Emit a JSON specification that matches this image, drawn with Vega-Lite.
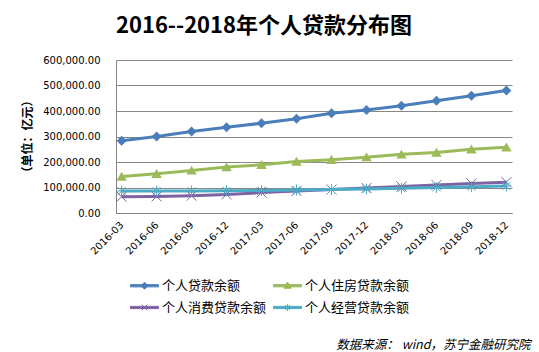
{
  "$schema": "https://vega.github.io/schema/vega-lite/v6.json",
  "width": 396,
  "height": 153,
  "autosize": {"type": "none"},
  "padding": {"left": 116, "top": 60, "right": 27, "bottom": 139},
  "background": "white",
  "title": {
    "text": "2016--2018年个人贷款分布图",
    "font": "Noto Sans CJK SC",
    "fontSize": 22,
    "fontWeight": "bold",
    "color": "#000000",
    "anchor": "middle",
    "frame": "group",
    "dx": -50,
    "offset": 17
  },
  "config": {
    "view": {"stroke": null}
  },
  "data": {
    "values": [
      {"date": "2016-03", "series": "个人贷款余额", "value": 283000},
      {"date": "2016-06", "series": "个人贷款余额", "value": 300000},
      {"date": "2016-09", "series": "个人贷款余额", "value": 320000},
      {"date": "2016-12", "series": "个人贷款余额", "value": 336000},
      {"date": "2017-03", "series": "个人贷款余额", "value": 352000},
      {"date": "2017-06", "series": "个人贷款余额", "value": 370000},
      {"date": "2017-09", "series": "个人贷款余额", "value": 391000},
      {"date": "2017-12", "series": "个人贷款余额", "value": 404000},
      {"date": "2018-03", "series": "个人贷款余额", "value": 421000},
      {"date": "2018-06", "series": "个人贷款余额", "value": 440000},
      {"date": "2018-09", "series": "个人贷款余额", "value": 460000},
      {"date": "2018-12", "series": "个人贷款余额", "value": 480000},
      {"date": "2016-03", "series": "个人住房贷款余额", "value": 143000},
      {"date": "2016-06", "series": "个人住房贷款余额", "value": 154000},
      {"date": "2016-09", "series": "个人住房贷款余额", "value": 167000},
      {"date": "2016-12", "series": "个人住房贷款余额", "value": 180000},
      {"date": "2017-03", "series": "个人住房贷款余额", "value": 189000},
      {"date": "2017-06", "series": "个人住房贷款余额", "value": 202000},
      {"date": "2017-09", "series": "个人住房贷款余额", "value": 209000},
      {"date": "2017-12", "series": "个人住房贷款余额", "value": 219000},
      {"date": "2018-03", "series": "个人住房贷款余额", "value": 230000},
      {"date": "2018-06", "series": "个人住房贷款余额", "value": 237000},
      {"date": "2018-09", "series": "个人住房贷款余额", "value": 250000},
      {"date": "2018-12", "series": "个人住房贷款余额", "value": 258000},
      {"date": "2016-03", "series": "个人消费贷款余额", "value": 64000},
      {"date": "2016-06", "series": "个人消费贷款余额", "value": 65000},
      {"date": "2016-09", "series": "个人消费贷款余额", "value": 68000},
      {"date": "2016-12", "series": "个人消费贷款余额", "value": 73000},
      {"date": "2017-03", "series": "个人消费贷款余额", "value": 80000},
      {"date": "2017-06", "series": "个人消费贷款余额", "value": 86000},
      {"date": "2017-09", "series": "个人消费贷款余额", "value": 92000},
      {"date": "2017-12", "series": "个人消费贷款余额", "value": 98000},
      {"date": "2018-03", "series": "个人消费贷款余额", "value": 104000},
      {"date": "2018-06", "series": "个人消费贷款余额", "value": 110000},
      {"date": "2018-09", "series": "个人消费贷款余额", "value": 116000},
      {"date": "2018-12", "series": "个人消费贷款余额", "value": 121000},
      {"date": "2016-03", "series": "个人经营贷款余额", "value": 86000},
      {"date": "2016-06", "series": "个人经营贷款余额", "value": 86000},
      {"date": "2016-09", "series": "个人经营贷款余额", "value": 86000},
      {"date": "2016-12", "series": "个人经营贷款余额", "value": 87000},
      {"date": "2017-03", "series": "个人经营贷款余额", "value": 88000},
      {"date": "2017-06", "series": "个人经营贷款余额", "value": 90000},
      {"date": "2017-09", "series": "个人经营贷款余额", "value": 92000},
      {"date": "2017-12", "series": "个人经营贷款余额", "value": 94000},
      {"date": "2018-03", "series": "个人经营贷款余额", "value": 97000},
      {"date": "2018-06", "series": "个人经营贷款余额", "value": 100000},
      {"date": "2018-09", "series": "个人经营贷款余额", "value": 103000},
      {"date": "2018-12", "series": "个人经营贷款余额", "value": 106000}
    ]
  },
  "encoding": {
    "x": {
      "field": "date",
      "type": "ordinal",
      "scale": {"type": "point", "padding": 0.16},
      "axis": {
        "title": "数据来源： wind，苏宁金融研究院",
        "titleX": 414,
        "titleY": 131,
        "titleAlign": "right",
        "titleAnchor": null,
        "titleBaseline": "middle",
        "titleFont": "Noto Sans CJK SC",
        "titleFontSize": 12.5,
        "titleFontStyle": "italic",
        "titleFontWeight": "normal",
        "titleColor": "#000000",
        "labelAngle": -45,
        "labelAlign": "right",
        "labelBaseline": "middle",
        "labelPadding": 10,
        "labelFont": "DejaVu Sans",
        "labelFontSize": 10,
        "labelColor": "#000000",
        "ticks": false,
        "grid": false,
        "domainColor": "#868686",
        "domainWidth": 1
      }
    },
    "y": {
      "field": "value",
      "type": "quantitative",
      "scale": {"domain": [0, 600000]},
      "axis": {
        "values": [0, 100000, 200000, 300000, 400000, 500000, 600000],
        "format": ",.2f",
        "title": "（单位：亿元）",
        "titleFont": "Noto Sans CJK SC",
        "titleFontSize": 12,
        "titleFontWeight": "bold",
        "titleColor": "#000000",
        "titleX": -89,
        "titleY": 76,
        "titleAngle": -90,
        "titleAlign": "center",
        "titleBaseline": "middle",
        "labelFont": "DejaVu Sans",
        "labelFontSize": 10,
        "labelColor": "#000000",
        "labelPadding": 16,
        "ticks": false,
        "grid": true,
        "gridColor": "#868686",
        "gridWidth": 1,
        "domainColor": "#868686",
        "domainWidth": 1
      }
    },
    "color": {
      "field": "series",
      "type": "nominal",
      "scale": {
        "domain": ["个人贷款余额", "个人住房贷款余额", "个人消费贷款余额", "个人经营贷款余额"],
        "range": ["#4A7EBB", "#9BBB59", "#7F62A1", "#4BACC6"]
      },
      "legend": {
        "orient": "none",
        "legendX": 14,
        "legendY": 211,
        "columns": 2,
        "direction": "horizontal",
        "title": null,
        "symbolSize": 784,
        "labelFont": "Noto Sans CJK SC",
        "labelFontSize": 13,
        "labelColor": "#000000",
        "labelOffset": 3,
        "labelLimit": 300,
        "columnPadding": 4,
        "rowPadding": -5,
        "encode": {
          "symbols": {
            "update": {
              "shape": {"signal": "datum.value === '个人贷款余额' ? 'M-1,-0.08L1,-0.08L1,0.08L-1,0.08ZM0,-0.25L0.25,0L0,0.25L-0.25,0Z' : datum.value === '个人住房贷款余额' ? 'M-1,-0.08L1,-0.08L1,0.08L-1,0.08ZM0,-0.26L0.26,0.18L-0.26,0.18Z' : datum.value === '个人消费贷款余额' ? 'M-1,-0.08L1,-0.08L1,0.08L-1,0.08ZM-0.2,-0.2L0.2,0.2M-0.2,0.2L0.2,-0.2' : 'M-1,-0.08L1,-0.08L1,0.08L-1,0.08ZM0,-0.24L0,0.24M-0.18,-0.18L0.18,0.18M-0.18,0.18L0.18,-0.18'"},
              "fill": {"scale": "color", "field": "value"},
              "stroke": {"scale": "color", "field": "value"},
              "strokeWidth": {"value": 1},
              "opacity": {"value": 1},
              "fillOpacity": {"value": 1}
            }
          }
        }
      }
    }
  },
  "layer": [
    {
      "mark": {"type": "line", "strokeWidth": 3}
    },
    {
      "transform": [{"filter": "datum.series === '个人贷款余额'"}],
      "mark": {"type": "point", "filled": true, "opacity": 1, "size": 100, "shape": "M0,-1L1,0L0,1L-1,0Z"}
    },
    {
      "transform": [{"filter": "datum.series === '个人住房贷款余额'"}],
      "mark": {"type": "point", "filled": true, "opacity": 1, "size": 110, "shape": "M0,-0.9L1,0.8L-1,0.8Z"}
    },
    {
      "transform": [{"filter": "datum.series === '个人消费贷款余额'"}],
      "mark": {"type": "point", "filled": false, "strokeWidth": 1, "opacity": 1, "size": 100, "shape": "M-1,-1L1,1M-1,1L1,-1"}
    },
    {
      "transform": [{"filter": "datum.series === '个人经营贷款余额'"}],
      "mark": {"type": "point", "filled": false, "strokeWidth": 1, "opacity": 1, "size": 100, "shape": "M0,-1.1L0,1.1M-1,0L1,0M-0.8,-0.8L0.8,0.8M-0.8,0.8L0.8,-0.8"}
    }
  ]
}
